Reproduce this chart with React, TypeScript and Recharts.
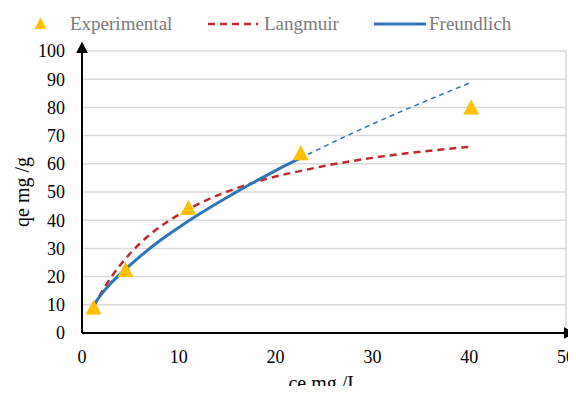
import React from 'react'
import {
  CartesianGrid,
  ComposedChart,
  Line,
  ReferenceLine,
  Scatter,
  XAxis,
  YAxis,
} from 'recharts'

// experimental points
const expCe = [1.2, 4.5, 11, 22.6, 40.2]
const expQe = [9, 22.3, 44.3, 63.7, 80]

// Langmuir fit
const langCe = [1.2, 2, 3, 4, 6, 8, 10, 12, 14, 16, 18, 20, 22.5, 25, 30, 35, 40]
const langQe = [9.2, 14.3, 19.7, 24.3, 31.8, 37.5, 42.0, 45.7, 48.8, 51.4, 53.6, 55.5, 57.4, 59.2, 62.1, 64.3, 66.0]

// Freundlich fit (solid part) and its extrapolation
const freCe = [1.2, 2, 3, 4, 6, 8, 10, 12, 14, 16, 18, 20, 22.5]
const freQe = [10.0, 13.7, 17.7, 21.1, 27.2, 32.6, 37.4, 41.9, 46.1, 50.1, 53.9, 57.6, 61.9]
const extCe = [22.5, 25, 30, 35, 40]
const extQe = [61.9, 66.1, 74.1, 81.5, 88.6]

const xTicks = [0, 10, 20, 30, 40, 50]
const yTicks = [0, 10, 20, 30, 40, 50, 60, 70, 80, 90, 100]

const toRows = (xs: number[], ys: number[]) => xs.map((ce, i) => ({ ce, qe: ys[i] }))

const expData = toRows(expCe, expQe)
const langData = toRows(langCe, langQe)
const freData = toRows(freCe, freQe)
const extData = toRows(extCe, extQe)

const GOLD = '#FFC000'
const RED = '#C0282D'
const BLUE = '#2E75B6'
const FONT = 'Liberation Serif'

const Triangle = (props: any) => {
  const { cx, cy } = props
  if (cx == null || cy == null) return null
  return <polygon points={`${cx},${cy - 8} ${cx + 8},${cy + 7} ${cx - 8},${cy + 7}`} fill={GOLD} />
}

const YTitle = (props: any) => {
  const vb = props.viewBox
  const x = vb.x + 22
  const y = vb.y + vb.height / 2
  return (
    <text x={x} y={y} transform={`rotate(-90 ${x} ${y})`} textAnchor="middle" dominantBaseline="central" fontSize={20} fill="#000" style={{ fontFamily: FONT }}>
      qe mg /g
    </text>
  )
}

const XTitle = (props: any) => {
  const vb = props.viewBox
  return (
    <text x={vb.x + vb.width / 2} y={vb.y + 50} textAnchor="middle" dominantBaseline="central" fontSize={20} fill="#000" style={{ fontFamily: FONT }}>
      ce mg /L
    </text>
  )
}

const legendText: React.CSSProperties = { position: 'absolute', top: 12, fontSize: 19, color: '#7a7a7a', lineHeight: '24px', fontFamily: FONT, whiteSpace: 'nowrap' }

const LegendRow = () => (
  <div style={{ position: 'absolute', left: 0, top: 0, width: 576, height: 40 }}>
    <svg style={{ position: 'absolute', left: 34, top: 17 }} width={13} height={13}>
      <polygon points="6.5,0.5 12.5,12 0.5,12" fill={GOLD} />
    </svg>
    <span style={{ ...legendText, left: 70 }}>Experimental</span>
    <svg style={{ position: 'absolute', left: 208, top: 20 }} width={50} height={8}>
      <line x1={0} y1={4} x2={50} y2={4} stroke={RED} strokeWidth={2.5} strokeDasharray="7 5" />
    </svg>
    <span style={{ ...legendText, left: 264 }}>Langmuir</span>
    <svg style={{ position: 'absolute', left: 374, top: 20 }} width={52} height={8}>
      <line x1={0} y1={4} x2={52} y2={4} stroke={BLUE} strokeWidth={3} />
    </svg>
    <span style={{ ...legendText, left: 429 }}>Freundlich</span>
  </div>
)

const tickStyle = { fontSize: 18, fill: '#000', style: { fontFamily: FONT } }

export default function App() {
  return (
    <div style={{ position: 'relative', width: 576, height: 394, margin: -8, fontFamily: FONT, background: '#fff' }}>
      <ComposedChart width={576} height={394} margin={{ top: 51, right: 10, bottom: 0, left: 0 }} style={{ fontFamily: FONT }}>
        <defs>
          <marker id="arrowHead" viewBox="0 0 10 10" refX="2" refY="5" markerWidth="6" markerHeight="6" orient="auto-start-reverse">
            <path d="M0,0 L10,5 L0,10 z" fill="#000" />
          </marker>
        </defs>
        <CartesianGrid vertical={false} stroke="#d9d9d9" strokeWidth={1.5} />
        <ReferenceLine x={50} stroke="#d9d9d9" strokeWidth={1.5} />
        <XAxis
          type="number"
          dataKey="ce"
          domain={[0, 50]}
          ticks={xTicks}
          height={61}
          tickSize={0}
          tickMargin={17}
          tick={tickStyle}
          axisLine={{ stroke: '#000', strokeWidth: 2, markerEnd: 'url(#arrowHead)' }}
          label={<XTitle />}
        />
        <YAxis
          type="number"
          domain={[0, 100]}
          ticks={yTicks}
          width={82}
          tickSize={0}
          tickMargin={17}
          tick={tickStyle}
          axisLine={{ stroke: '#000', strokeWidth: 2, markerStart: 'url(#arrowHead)' }}
          label={<YTitle />}
        />
        <Line data={langData} dataKey="qe" type="monotone" stroke={RED} strokeWidth={2.5} strokeDasharray="7 5" dot={false} isAnimationActive={false} />
        <Line data={freData} dataKey="qe" type="monotone" stroke={BLUE} strokeWidth={3} dot={false} isAnimationActive={false} />
        <Line data={extData} dataKey="qe" type="monotone" stroke={BLUE} strokeWidth={1.5} strokeDasharray="5 4" dot={false} isAnimationActive={false} />
        <Scatter data={expData} dataKey="qe" shape={<Triangle />} isAnimationActive={false} />
      </ComposedChart>
      <LegendRow />
    </div>
  )
}
